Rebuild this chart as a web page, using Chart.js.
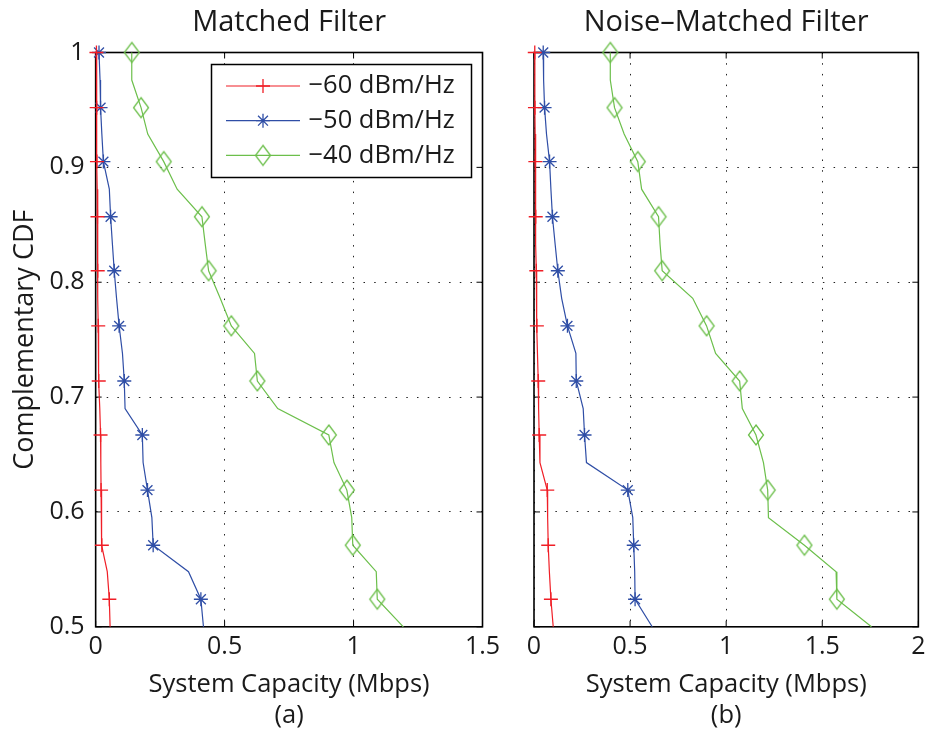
<!DOCTYPE html>
<html>
<head>
<meta charset="utf-8">
<script src="https://cdn.jsdelivr.net/npm/chart.js"></script>
<style>
  html, body { margin: 0; padding: 0; background: #fff; }
  #wrap { position: relative; width: 931px; height: 731px; }
  #wrap canvas { position: absolute; left: 0; top: 0; }
</style>
</head>
<body>
<div id="wrap">
  <canvas id="chartA" width="931" height="731"></canvas>
  <canvas id="chartB" width="931" height="731"></canvas>
</div>
<script>
// CCDF levels shared by every curve (top to bottom)
const ccdfLevels = [1, 0.976, 0.952, 0.929, 0.905, 0.881, 0.857, 0.833, 0.810, 0.786, 0.762,
                    0.738, 0.714, 0.690, 0.667, 0.643, 0.619, 0.595, 0.571, 0.548, 0.524, 0.5];

const seriesLabels = ['\u221260 dBm/Hz', '\u221250 dBm/Hz', '\u221240 dBm/Hz'];

// (a) Matched Filter, system capacity in Mbps
const mf60 = [0.003, 0.003, 0.004, 0.004, 0.005, 0.006, 0.007, 0.008, 0.008, 0.009, 0.010,
              0.011, 0.012, 0.016, 0.019, 0.020, 0.021, 0.022, 0.024, 0.045, 0.053, 0.056];
const mf50 = [0.013, 0.017, 0.019, 0.024, 0.030, 0.053, 0.058, 0.065, 0.072, 0.081, 0.091,
              0.104, 0.111, 0.114, 0.181, 0.184, 0.201, 0.218, 0.223, 0.360, 0.408, 0.418];
const mf40 = [0.140, 0.140, 0.176, 0.202, 0.264, 0.316, 0.412, 0.425, 0.438, 0.483, 0.526,
              0.616, 0.627, 0.706, 0.904, 0.924, 0.974, 0.993, 0.997, 1.088, 1.092, 1.193];

// (b) Noise-Matched Filter
const nm60 = [0.004, 0.004, 0.005, 0.006, 0.007, 0.008, 0.009, 0.010, 0.012, 0.013, 0.015,
              0.018, 0.022, 0.024, 0.027, 0.031, 0.069, 0.071, 0.074, 0.080, 0.088, 0.100];
const nm50 = [0.048, 0.050, 0.055, 0.065, 0.081, 0.088, 0.096, 0.110, 0.124, 0.144, 0.174,
              0.218, 0.220, 0.256, 0.263, 0.273, 0.488, 0.514, 0.519, 0.524, 0.526, 0.615];
const nm40 = [0.397, 0.397, 0.419, 0.469, 0.540, 0.560, 0.648, 0.656, 0.667, 0.826, 0.898,
              0.945, 1.070, 1.084, 1.155, 1.194, 1.216, 1.220, 1.407, 1.572, 1.576, 1.756];

// ticks
const yTicks = [0.5, 0.6, 0.7, 0.8, 0.9, 1];
const yTickLabels = ['0.5', '0.6', '0.7', '0.8', '0.9', '1'];
const xTicksA = [0, 0.5, 1, 1.5];
const xTickLabelsA = ['0', '0.5', '1', '1.5'];
const xTicksB = [0, 0.5, 1, 1.5, 2];
const xTickLabelsB = ['0', '0.5', '1', '1.5', '2'];

const FONT = '"Open Sans", "Noto Sans", sans-serif';
const TEXT = '#1a1a1a';
const RED = '#f01e26', BLUE = '#2f4ea6', GREEN = '#6cbf4b';

function diamondMarker(color) {
    const c = document.createElement('canvas');
    c.width = 18; c.height = 24;
    const g = c.getContext('2d');
    g.strokeStyle = color;
    g.lineWidth = 1.3;
    g.beginPath();
    g.moveTo(9, 2); g.lineTo(16.5, 12); g.lineTo(9, 22); g.lineTo(1.5, 12);
    g.closePath();
    g.stroke();
    return c;
}
const diamond = diamondMarker(GREEN);

function toPoints(xs) {
    return ccdfLevels.map((y, i) => ({x: xs[i], y: y}));
}

function makeDataset(label, xs, color, style) {
    return {
        label: label,
        data: toPoints(xs),
        borderColor: color,
        backgroundColor: color,
        borderWidth: 1.2,
        pointStyle: style,
        pointBorderColor: color,
        pointBorderWidth: 1.3,
        pointRadius: ctx => ctx.dataIndex % 2 === 0 ? 7 : 0,
        pointHoverRadius: 0,
        tension: 0,
        clip: false
    };
}

// matlab-ish box with inward ticks
const framePlugin = {
    id: 'frame',
    beforeDatasetsDraw(chart) {
        const {ctx, chartArea: a, scales} = chart;
        ctx.save();
        ctx.strokeStyle = '#000';
        ctx.lineWidth = 1;
        ctx.beginPath();
        scales.x.ticks.forEach(t => {
            const px = scales.x.getPixelForValue(t.value);
            ctx.moveTo(px, a.bottom); ctx.lineTo(px, a.bottom - 6);
            ctx.moveTo(px, a.top); ctx.lineTo(px, a.top + 6);
        });
        scales.y.ticks.forEach(t => {
            const py = scales.y.getPixelForValue(t.value);
            ctx.moveTo(a.left, py); ctx.lineTo(a.left + 6, py);
            ctx.moveTo(a.right, py); ctx.lineTo(a.right - 6, py);
        });
        ctx.stroke();
        ctx.lineWidth = 1.6;
        ctx.strokeRect(a.left, a.top, a.right - a.left, a.bottom - a.top);
        ctx.restore();
    }
};

function drawMarker(ctx, style, x, y) {
    if (style instanceof HTMLCanvasElement) {
        ctx.drawImage(style, x - style.width / 2, y - style.height / 2);
        return;
    }
    const r = 7, d = r * Math.SQRT1_2;
    ctx.beginPath();
    ctx.moveTo(x - r, y); ctx.lineTo(x + r, y);
    ctx.moveTo(x, y - r); ctx.lineTo(x, y + r);
    if (style === 'star') {
        ctx.moveTo(x - d, y - d); ctx.lineTo(x + d, y + d);
        ctx.moveTo(x - d, y + d); ctx.lineTo(x + d, y - d);
    }
    ctx.stroke();
}

const legendPlugin = {
    id: 'legendBox',
    afterDatasetsDraw(chart) {
        const {ctx, chartArea: a} = chart;
        const w = 260, h = 113;
        const x0 = a.right - 11 - w, y0 = a.top + 12;
        ctx.save();
        ctx.fillStyle = '#fff';
        ctx.fillRect(x0, y0, w, h);
        ctx.strokeStyle = '#000';
        ctx.lineWidth = 1.5;
        ctx.strokeRect(x0, y0, w, h);
        chart.data.datasets.forEach((ds, i) => {
            const cy = y0 + 21.5 + i * 34.7;
            ctx.strokeStyle = ds.borderColor;
            ctx.lineWidth = ds.borderWidth;
            ctx.beginPath();
            ctx.moveTo(x0 + 14.5, cy); ctx.lineTo(x0 + 88.5, cy);
            ctx.stroke();
            ctx.lineWidth = ds.pointBorderWidth;
            drawMarker(ctx, ds.pointStyle, x0 + 51.5, cy);
            ctx.fillStyle = TEXT;
            ctx.font = '25.5px ' + FONT;
            ctx.textBaseline = 'middle';
            ctx.fillText(ds.label, x0 + 97, cy);
        });
        ctx.restore();
    }
};

function makeChart(id, title, datasets, xTicks, xLabels, panel, showY, padding, extraPlugins) {
    return new Chart(document.getElementById(id), {
        type: 'line',
        data: {datasets: datasets},
        options: {
            responsive: false,
            animation: false,
            layout: {padding: padding},
            plugins: {
                legend: {display: false},
                tooltip: {enabled: false},
                title: {
                    display: true,
                    text: title,
                    fullSize: false,
                    color: TEXT,
                    font: {family: FONT, size: 29, weight: 'normal'},
                    padding: {top: 5.3, bottom: 12.4}
                }
            },
            scales: {
                x: {
                    type: 'linear',
                    min: xTicks[0],
                    max: xTicks[xTicks.length - 1],
                    afterBuildTicks: s => { s.ticks = xTicks.map(v => ({value: v})); },
                    ticks: {
                        color: TEXT,
                        padding: 5.5,
                        maxRotation: 0,
                        font: {family: FONT, size: 25},
                        callback: (v, i) => xLabels[i]
                    },
                    grid: {color: '#222', lineWidth: 1, drawTicks: false},
                    border: {display: false, dash: [1.5, 9.2]},
                    title: {
                        display: true,
                        text: ['System Capacity (Mbps)', panel],
                        color: TEXT,
                        font: {family: FONT, size: 25.5, lineHeight: 1.2},
                        padding: {top: 2, bottom: 0}
                    }
                },
                y: {
                    type: 'linear',
                    min: 0.5,
                    max: 1,
                    afterBuildTicks: s => { s.ticks = yTicks.map(v => ({value: v})); },
                    ticks: {
                        display: showY,
                        color: TEXT,
                        padding: 11,
                        font: {family: FONT, size: 25},
                        callback: (v, i) => yTickLabels[i]
                    },
                    grid: {color: '#222', lineWidth: 1, drawTicks: false},
                    border: {display: false, dash: [1.5, 9.2]},
                    title: {
                        display: showY,
                        text: 'Complementary CDF',
                        color: TEXT,
                        font: {family: FONT, size: 27, lineHeight: 1},
                        padding: {top: 11.5, bottom: 0}
                    }
                }
            }
        },
        plugins: [framePlugin].concat(extraPlugins)
    });
}

makeChart('chartA', 'Matched Filter', [
    makeDataset(seriesLabels[0], mf60, RED, 'cross'),
    makeDataset(seriesLabels[1], mf50, BLUE, 'star'),
    makeDataset(seriesLabels[2], mf40, GREEN, diamond)
], xTicksA, xTickLabelsA, '(a)', true, {left: 0, right: 448.5, top: 0, bottom: 0}, [legendPlugin]);

makeChart('chartB', 'Noise\u2013Matched Filter', [
    makeDataset(seriesLabels[0], nm60, RED, 'cross'),
    makeDataset(seriesLabels[1], nm50, BLUE, 'star'),
    makeDataset(seriesLabels[2], nm40, GREEN, diamond)
], xTicksB, xTickLabelsB, '(b)', false, {left: 534, right: 9.3, top: 0, bottom: 0}, []);
</script>
</body>
</html>
